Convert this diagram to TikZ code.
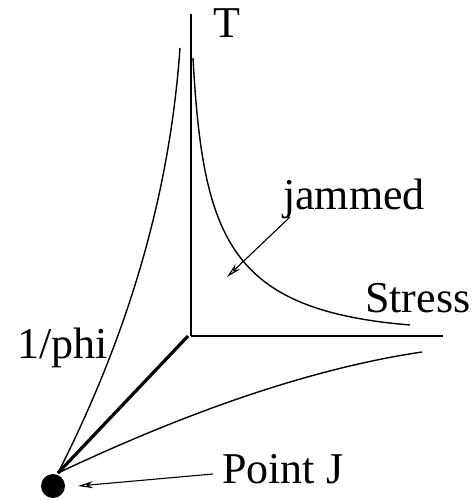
\documentclass[tikz,border=0pt]{standalone}
\usepackage{fontspec}
\setmainfont{Liberation Serif}
\usetikzlibrary{arrows.meta}
\begin{document}
\begin{tikzpicture}[x=1pt,y=-1pt,
  lbl/.style={anchor=base west,inner sep=0pt,font=\fontsize{44}{48}\selectfont},
  axis/.style={line width=1.6pt,black},
  curve/.style={line width=1.4pt,black},
  pointer/.style={line width=1.1pt,-{Stealth[length=15pt,width=7pt,open]}}]
\useasboundingbox (0,0) rectangle (475,501);
% axes
\coordinate (O) at (191,336);
\coordinate (Ttop) at (191,14);
\coordinate (Send) at (443,336);
\node[circle,fill=black,inner sep=0pt,minimum size=24pt] (J) at (53,486) {};
\coordinate (Jc) at (58,473);
\draw[axis] (O) -- (Ttop);
\draw[axis] (O) -- (Send);
\draw[line width=3.2pt] (188,336) -- (Jc);
% curves
\draw[curve] (Jc) .. controls (138,315) and (171,175) .. (180,48);
\draw[curve] (193,58) .. controls (203,240) and (230,310) .. (410,325);
\draw[curve] (Jc) .. controls (170,420) and (300,370) .. (422,352);
% labels
\node[lbl] (Tl) at (213,37) {T};
\node[lbl] (jam) at (283,209) {jammed};
\node[lbl] (str) at (365,312) {Stress};
\node[lbl] (phi) at (17,358) {1/phi};
\node[lbl] (pj) at (222,483) {Point J};
% pointers
\coordinate (jamfrom) at (290,217);
\coordinate (jamto) at (227,277);
\draw[pointer] (jamfrom) -- (jamto);
\coordinate (pjfrom) at (213,474);
\coordinate (pjto) at (78,486);
\draw[pointer] (pjfrom) -- (pjto);
\end{tikzpicture}
\end{document}
